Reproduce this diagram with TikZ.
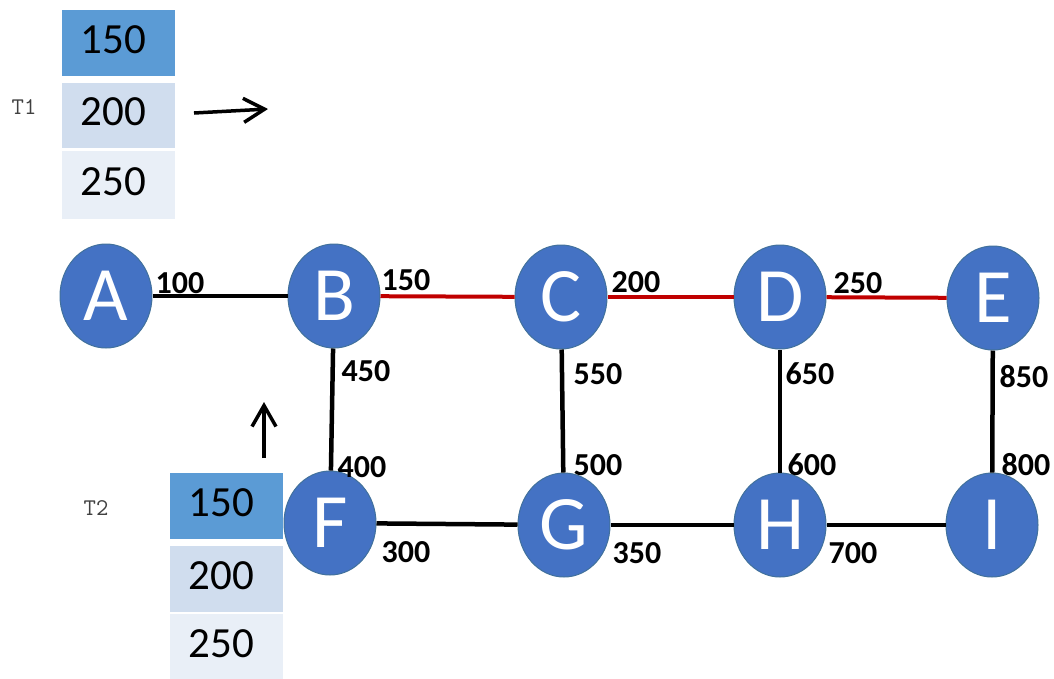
\documentclass[tikz,border=0pt]{standalone}
\usepackage{fontspec}
\setmainfont{Carlito}
\usetikzlibrary{shapes.geometric,arrows.meta}
\definecolor{nodeblue}{HTML}{4472C4}
\definecolor{nodeborder}{HTML}{41719C}
\definecolor{redline}{HTML}{C00000}
\definecolor{cellA}{HTML}{5B9BD5}
\definecolor{cellB}{HTML}{D0DDEE}
\definecolor{cellC}{HTML}{E9EFF7}
\newcommand{\vtext}[1]{\raisebox{-6pt}{#1}}
\newcommand{\ctext}[1]{\raisebox{7pt}{\hspace*{-10pt}#1}}
\tikzset{
  vert/.style={ellipse,fill=nodeblue,draw=nodeborder,line width=1pt,minimum width=92pt,minimum height=104pt,inner sep=0pt,text=white,font=\fontsize{77}{77}\selectfont},
  edge/.style={line width=4.5pt,black},
  hot/.style={line width=4pt,redline},
  wlab/.style={font=\bfseries\fontsize{32}{32}\selectfont,inner sep=0pt},
  cell/.style={minimum width=113pt,inner sep=0pt,font=\fontsize{43}{43}\selectfont},
  tlab/.style={font=\ttfamily\fontsize{24}{24}\selectfont,inner sep=0pt,text=black!75},
  arr/.style={line width=3.5pt,-{Straight Barb[length=21pt,width=24pt,line width=3.5pt]}}
}
\begin{document}
\begin{tikzpicture}[x=1pt,y=-1pt]
\useasboundingbox (0,0) rectangle (1054,678);
% tables
\node[cell,fill=cellA,minimum height=66pt] (t1a) at (118.5,43) {\ctext{150}};
\node[cell,fill=cellB,minimum height=65pt] (t1b) at (118.5,115.5) {\ctext{200}};
\node[cell,fill=cellC,minimum height=68pt] (t1c) at (118.5,185) {\ctext{250}};
\node[tlab] (T1) at (24,107) {T1};
\node[cell,fill=cellA,minimum height=66pt] (t2a) at (226.5,506) {\ctext{150}};
\node[cell,fill=cellB,minimum height=66pt] (t2b) at (226.5,579) {\ctext{200}};
\node[cell,fill=cellC,minimum height=66pt] (t2c) at (226.5,647) {\ctext{250}};
\node[tlab] (T2) at (96,508) {T2};
% arrows
\coordinate (a1s) at (194,113);
\coordinate (a1e) at (268,109);
\draw[arr] (a1s) -- (a1e);
\coordinate (a2s) at (264,458);
\coordinate (a2e) at (264,402);
\draw[arr] (a2s) -- (a2e);
% vertices
\node[vert] (A) at (106,296) {\vtext{A}};
\node[vert] (B) at (334,296) {\vtext{B}};
\node[vert] (C) at (561,297) {\vtext{C}};
\node[vert] (D) at (780,297) {\vtext{D}};
\node[vert] (E) at (993,298) {\vtext{E}};
\node[vert] (F) at (330,523) {\vtext{F}};
\node[vert] (G) at (564,525) {\vtext{G}};
\node[vert] (H) at (780,525) {\vtext{H}};
\node[vert] (I) at (992,525) {\vtext{I}};
% edges
\draw[edge] (A) -- (B);
\draw[hot] (B) -- (C);
\draw[hot] (C) -- (D);
\draw[hot] (D) -- (E);
\draw[edge] (B) -- (F);
\draw[edge] (C) -- (G);
\draw[edge] (D) -- (H);
\draw[edge] (E) -- (I);
\draw[edge] (F) -- (G);
\draw[edge] (G) -- (H);
\draw[edge] (H) -- (I);
% labels
\node[wlab] (l100) at (180,283) {100};
\node[wlab] (l150) at (406,280) {150};
\node[wlab] (l200) at (636,282) {200};
\node[wlab] (l250) at (858,283) {250};
\node[wlab] (l450) at (366,371) {450};
\node[wlab] (l550) at (598,374) {550};
\node[wlab] (l650) at (810,374) {650};
\node[wlab] (l850) at (1024,377) {850};
\node[wlab] (l400) at (362,467) {400};
\node[wlab] (l500) at (598,465) {500};
\node[wlab] (l600) at (812,465) {600};
\node[wlab] (l800) at (1026,465) {800};
\node[wlab] (l300) at (406,552) {300};
\node[wlab] (l350) at (637,553) {350};
\node[wlab] (l700) at (853,553) {700};
\end{tikzpicture}
\end{document}
